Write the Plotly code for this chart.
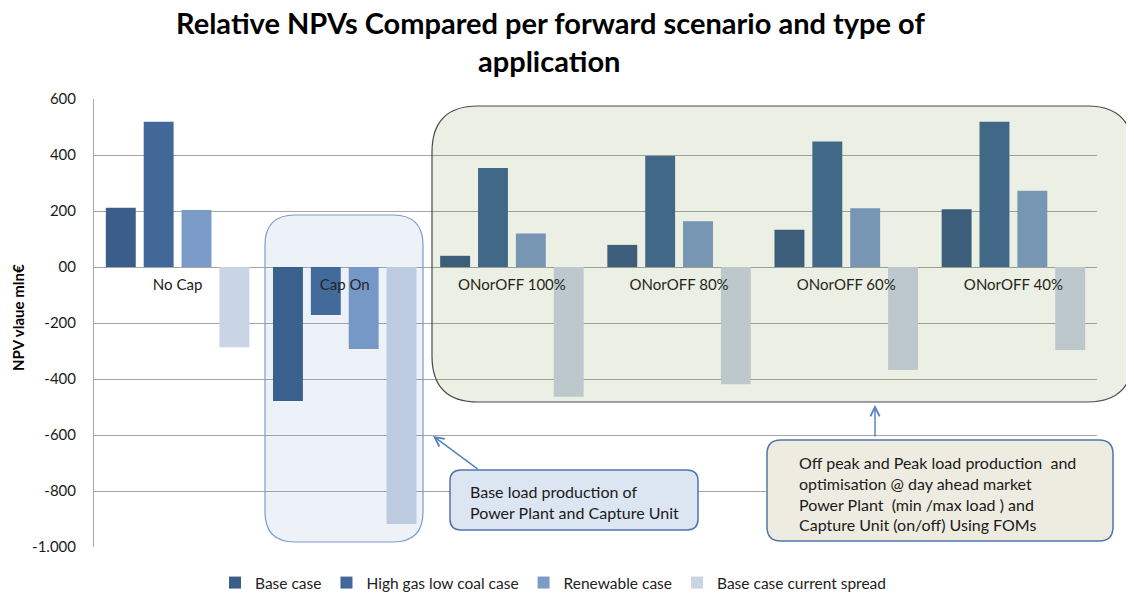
import plotly.graph_objects as go

categories = ["No Cap", "Cap On", "ONorOFF 100%", "ONorOFF 80%", "ONorOFF 60%", "ONorOFF 40%"]
series_names = ["Base case", "High gas low coal case", "Renewable case", "Base case current spread"]
base_case = [212, -479, 40, 79, 133, 206]
high_gas_low_coal = [519, -171, 354, 396, 448, 519]
renewable = [204, -293, 120, 163, 210, 272]
base_current_spread = [-287, -918, -463, -419, -368, -296]
tick_values = [600, 400, 200, 0, -200, -400, -600, -800, -1000]
tick_labels = ["600", "400", "200", "00", "-200", "-400", "-600", "-800", "-1.000"]

colors = ["#3a5d8a", "#416898", "#7b9bc8", "#c9d4e5"]
series = [base_case, high_gas_low_coal, renewable, base_current_spread]

FONT = "Lato, Open Sans, sans-serif"
W, H = 1134, 599
OFF = 8  # page body margin
# plot area in screen pixels
L, R, T, B = 94, 1097, 99, 547

fig = go.Figure()
for name, vals, col in zip(series_names, series, colors):
    fig.add_trace(go.Bar(x=categories, y=vals, name=name, marker=dict(color=col, line=dict(width=0))))


def px(x):
    return (x - L) / (R - L)


def py(y):
    return (B - y) / (B - T)


def rounded(x0, y0, x1, y1, r):
    X0, X1 = px(x0), px(x1)
    Y0, Y1 = py(y0), py(y1)
    rx = r / (R - L)
    ry = r / (B - T)
    return (f"M{X0 + rx},{Y0} L{X1 - rx},{Y0} Q{X1},{Y0} {X1},{Y0 - ry} "
            f"L{X1},{Y1 + ry} Q{X1},{Y1} {X1 - rx},{Y1} "
            f"L{X0 + rx},{Y1} Q{X0},{Y1} {X0},{Y1 + ry} "
            f"L{X0},{Y0 - ry} Q{X0},{Y0} {X0 + rx},{Y0} Z")


shapes = [
    dict(type="path", xref="paper", yref="paper", layer="above",
         path=rounded(432, 106, 1133, 402, 46),
         fillcolor="rgba(85,112,10,0.11)", line=dict(color="#4a4a4a", width=1.2)),
    dict(type="path", xref="paper", yref="paper", layer="above",
         path=rounded(265, 215, 423, 542, 30),
         fillcolor="rgba(79,129,189,0.10)", line=dict(color="#7c9bc8", width=1.2)),
    dict(type="path", xref="paper", yref="paper", layer="above",
         path=rounded(450, 470, 698, 530, 11),
         fillcolor="#dce6f2", line=dict(color="#4f76ab", width=1.5)),
    dict(type="path", xref="paper", yref="paper", layer="above",
         path=rounded(767, 440, 1113, 541, 14),
         fillcolor="#eeece1", line=dict(color="#4f76ab", width=1.5)),
]

annotations = [
    dict(x=px(550), y=py(23), xref="paper", yref="paper", xanchor="center", yanchor="middle",
         showarrow=False, align="center",
         text="<b>Relative NPVs Compared per forward scenario and type of</b>",
         font=dict(family=FONT, size=29, color="#000000")),
    dict(x=px(549), y=py(60), xref="paper", yref="paper", xanchor="center", yanchor="middle",
         showarrow=False, align="center",
         text="<b>application</b>",
         font=dict(family=FONT, size=29, color="#000000")),
    dict(x=px(433), y=py(436), xref="paper", yref="paper", text="", showarrow=True,
         ax=479 - 433, ay=470 - 436, arrowhead=5, arrowsize=1.3, arrowwidth=1.4,
         arrowcolor="#4f81bd"),
    dict(x=px(875), y=py(405), xref="paper", yref="paper", text="", showarrow=True,
         ax=0, ay=438 - 405, arrowhead=5, arrowsize=1.3, arrowwidth=1.4,
         arrowcolor="#4f81bd"),
    dict(x=px(468), y=py(502), xref="paper", yref="paper", xanchor="left", yanchor="middle",
         align="left", showarrow=False,
         text="Base load production of<br>Power Plant and Capture Unit",
         font=dict(family=FONT, size=16, color="#1a1a1a")),
    dict(x=px(797), y=py(493), xref="paper", yref="paper", xanchor="left", yanchor="middle",
         align="left", showarrow=False,
         text=("Off peak and Peak load production  and<br>optimisation @ day ahead market<br>"
               "Power Plant  (min /max load ) and<br>Capture Unit (on/off) Using FOMs"),
         font=dict(family=FONT, size=16, color="#1a1a1a")),
    dict(x=px(18), y=py(318), xref="paper", yref="paper", text="<b>NPV vlaue mln€</b>",
         textangle=-90, showarrow=False, xanchor="center", yanchor="middle",
         font=dict(family=FONT, size=15, color="#000000")),
]

zero_pos = (0 - (-1000)) / (600 - (-1000))

fig.update_layout(
    width=W, height=H,
    margin=dict(l=L - OFF, r=W - (R - OFF), t=T - OFF, b=H - (B - OFF), pad=0, autoexpand=False),
    paper_bgcolor="white", plot_bgcolor="white",
    barmode="group", bargap=0.094, bargroupgap=0.21,
    showlegend=True,
    legend=dict(orientation="h", x=px(553), xanchor="center", y=py(566), yanchor="top",
                font=dict(family=FONT, size=15.5, color="#222222"),
                itemwidth=30, traceorder="normal"),
    xaxis=dict(anchor="free", position=zero_pos, showline=False, ticks="", showgrid=False,
               automargin=False, ticklabelstandoff=7,
               tickfont=dict(family=FONT, size=15, color="#1a1a1a"),
               fixedrange=True),
    yaxis=dict(range=[-1000, 600], tickvals=tick_values, ticktext=tick_labels,
               automargin=False,
               showgrid=True, gridcolor="#a6a6a6", gridwidth=1,
               zeroline=True, zerolinecolor="#a6a6a6", zerolinewidth=1,
               showline=True, linecolor="#a6a6a6", linewidth=1,
               ticks="", ticklabelstandoff=14,
               tickfont=dict(family=FONT, size=15, color="#1a1a1a")),
    shapes=shapes, annotations=annotations,
)

fig.write_html("out.html")
